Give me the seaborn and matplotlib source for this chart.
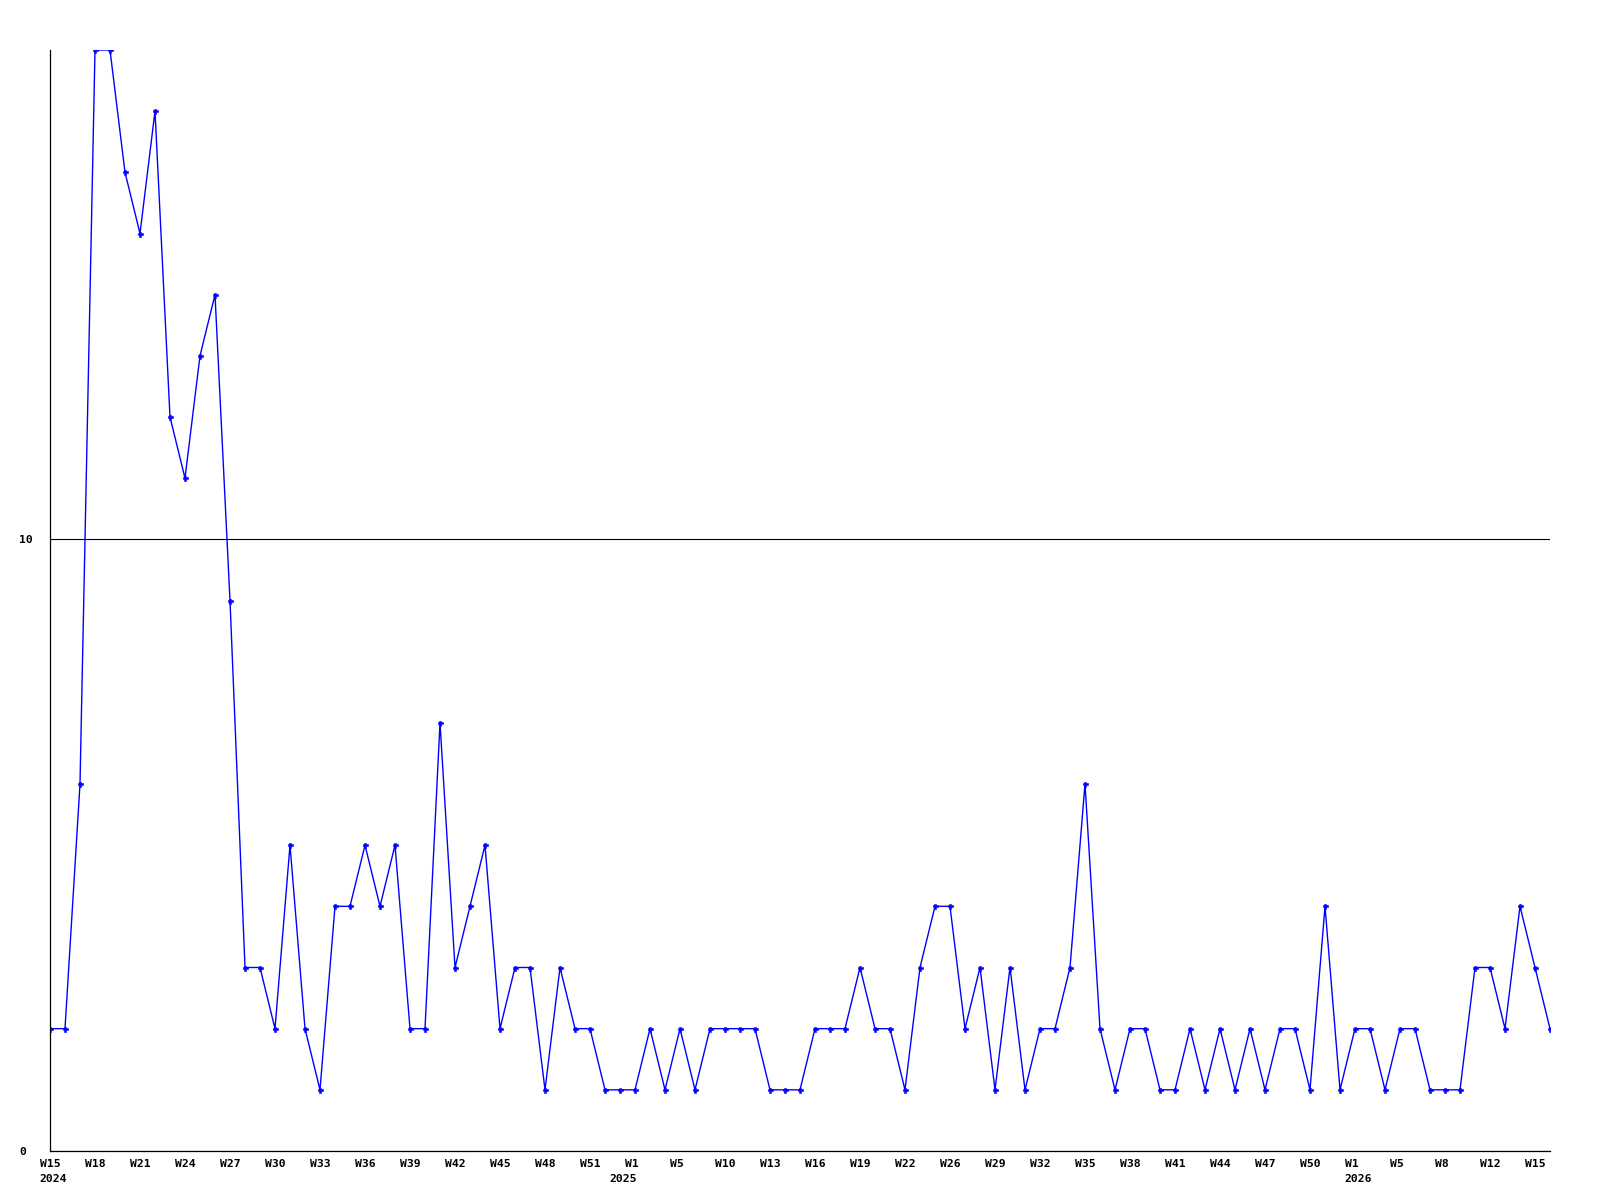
import matplotlib
matplotlib.use('Agg')
import matplotlib.pyplot as plt
import matplotlib.transforms as mtransforms
import seaborn as sns
import numpy as np

# Weekly counts, W15 2024 .. W16 2026
counts = [2, 2, 6, 18, 18, 16, 15, 17, 12, 11,
          13, 14, 9, 3, 3, 2, 5, 2, 1, 4,
          4, 5, 4, 5, 2, 2, 7, 3, 4, 5,
          2, 3, 3, 1, 3, 2, 2, 1, 1, 1,
          2, 1, 2, 1, 2, 2, 2, 2, 1, 1,
          1, 2, 2, 2, 3, 2, 2, 1, 3, 4,
          4, 2, 3, 1, 3, 1, 2, 2, 3, 6,
          2, 1, 2, 2, 1, 1, 2, 1, 2, 1,
          2, 1, 2, 2, 1, 4, 1, 2, 2, 1,
          2, 2, 1, 1, 1, 3, 3, 2, 4, 3,
          2]

week_labels = ['W15', 'W18', 'W21', 'W24', 'W27', 'W30', 'W33', 'W36', 'W39',
               'W42', 'W45', 'W48', 'W51', 'W1', 'W5', 'W10', 'W13', 'W16',
               'W19', 'W22', 'W26', 'W29', 'W32', 'W35', 'W38', 'W41', 'W44',
               'W47', 'W50', 'W1', 'W5', 'W8', 'W12', 'W15']

year_labels = ['2024', '2025', '2026']
year_label_x = [-0.7, 37.3, 86.3]

y_ticks = [0, 10]

week_index = np.arange(len(counts))

sns.set_style('white')
plt.rcParams['font.family'] = ['DejaVu Sans Mono', 'DejaVu Sans']
plt.rcParams['font.weight'] = 'bold'

fig = plt.figure(figsize=(16, 12), dpi=100)
ax = fig.add_axes([50 / 1600, 49 / 1200, 1500 / 1600, 1101 / 1200])

sns.lineplot(x=week_index, y=counts, ax=ax, color='#0000ff', linewidth=1.0,
             marker='P', markersize=3.6, markeredgecolor='#0000ff',
             markerfacecolor='#0000ff', markeredgewidth=0.4)

ax.set_xlim(0, len(counts) - 1)
ax.set_ylim(0, 18)

# axes look: only left/bottom, single grid line at 10
for side in ['top', 'right']:
    ax.spines[side].set_visible(False)
for side in ['left', 'bottom']:
    ax.spines[side].set_color('black')
    ax.spines[side].set_linewidth(0.9)

ax.set_yticks(y_ticks)
ax.set_yticklabels([str(v) for v in y_ticks], fontsize=8.2, fontweight='bold',
                   ha='left', color='black')
ax.tick_params(axis='y', length=0, pad=22)
ax.grid(axis='y', color='black', linewidth=0.8)
ax.grid(axis='x', visible=False)

ax.set_xticks(week_index[::3])
ax.set_xticklabels([lab.ljust(3) for lab in week_labels], fontsize=8.2,
                   fontweight='bold', color='black')
ax.tick_params(axis='x', length=0, pad=6)

trans = mtransforms.blended_transform_factory(ax.transData, ax.transAxes)
trans = mtransforms.offset_copy(trans, fig=fig, x=0, y=-23, units='dots')
for x, lab in zip(year_label_x, year_labels):
    ax.text(x, 0, lab, transform=trans, ha='left', va='top', fontsize=8.2,
            fontweight='bold', color='black', clip_on=False)

ax.set_xlabel('')
ax.set_ylabel('')

fig.savefig('out.png', dpi=100)
